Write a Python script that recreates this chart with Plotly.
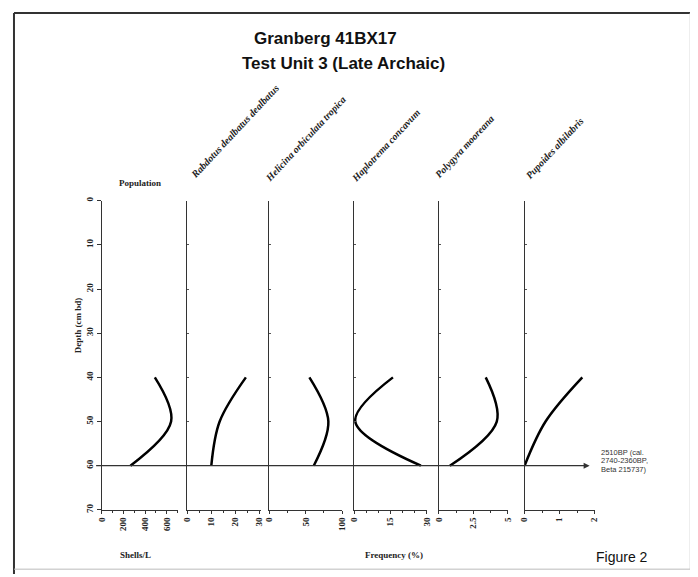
import plotly.graph_objects as go

W, H = 698, 577

# ---------------- data ----------------
depths = [40, 50, 60]
population = [490, 640, 265]          # Shells/L
rabdotus = [24.5, 13.5, 10]           # %
helicina = [55, 81, 61]               # %
haplotrema = [16, 0.5, 27.5]          # %
polygyra = [3.4, 4.2, 0.8]            # %
pupoides = [1.65, 0.6, 0]             # %

panel_names = ["Population", "Rabdotus dealbatus dealbatus", "Helicina orbiculata tropica",
               "Haplotrema concavum", "Polygyra mooreana", "Pupoides albilabris"]
panel_values = [population, rabdotus, helicina, haplotrema, polygyra, pupoides]
panel_ranges = [[0, 700], [0, 31], [0, 100], [0, 30], [0, 5], [0, 2]]
panel_ticks = [[0, 200, 400, 600], [0, 10, 20, 30], [0, 50, 100], [0, 15, 30], [0, 2.5, 5], [0, 1, 2]]
panel_minor = [100, 5, 25, 5, 1.25, 0.5]
depth_ticks = [0, 10, 20, 30, 40, 50, 60, 70]
dated_depth = 60
date_lines = ["2510BP (cal.", "2740-2360BP,", "Beta 215737)"]

# ---------------- layout helpers ----------------
# page body has an 8px margin, so shift page coordinates into figure coordinates
OFF = 8

def px(x):
    return (x - OFF) / W

def py(y):
    return 1 - (y - OFF) / H

panel_px = [(98, 175), (185, 260), (268, 342), (354, 428), (440, 510), (527, 598)]
y_dom = [py(512), py(199)]

fig = go.Figure()
layout = dict(
    width=W, height=H, margin=dict(l=0, r=0, t=0, b=0),
    paper_bgcolor="white", plot_bgcolor="rgba(0,0,0,0)", showlegend=False,
)

tickfont = dict(family="Liberation Serif", size=9, color="#222", weight="bold")

for i, (vals, rng, tv, mn, (x0, x1)) in enumerate(zip(panel_values, panel_ranges, panel_ticks, panel_minor, panel_px)):
    n = "" if i == 0 else str(i + 1)
    fig.add_trace(go.Scatter(
        x=vals, y=depths, mode="lines", xaxis="x" + n, yaxis="y" + n,
        line=dict(color="black", width=2.5, shape="spline", smoothing=1.0),
        hoverinfo="skip",
    ))
    layout["xaxis" + n] = dict(
        domain=[px(x0), px(x1)], range=rng, anchor="y" + n,
        showgrid=False, zeroline=False, showline=True, linecolor="#333", linewidth=1,
        ticks="outside", ticklen=3, tickcolor="#333", tickvals=tv,
        ticktext=[str(t) for t in tv], tickangle=-90, tickfont=tickfont,
        minor=dict(dtick=mn, ticks="outside", ticklen=2, tickcolor="#333"),
    )
    ydict = dict(
        domain=y_dom, range=[70, 0], anchor="x" + n,
        showgrid=False, zeroline=False, showline=True, linecolor="#333", linewidth=1,
        tickvals=depth_ticks,
    )
    if i == 0:
        ydict.update(ticks="outside", ticklen=4, tickcolor="#333",
                     ticktext=[str(t) for t in depth_ticks], tickangle=-90, tickfont=tickfont)
    else:
        ydict.update(ticks="inside", ticklen=2, tickcolor="#555", showticklabels=False)
    layout["yaxis" + n] = ydict

fig.update_layout(**layout)

# horizontal dated line with arrow
fig.add_annotation(
    x=px(593), xref="paper", y=dated_depth, yref="y",
    ax=-(593 - 98), axref="pixel", ay=0, ayref="pixel",
    text="", showarrow=True, arrowhead=2, arrowsize=1, arrowwidth=1.2, arrowcolor="#333",
)
for k, line in enumerate(date_lines):
    fig.add_annotation(
        x=px(603), xref="paper", y=py(454 + 8.5 * k), yref="paper", text=line,
        showarrow=False, xanchor="left", yanchor="middle", align="left",
        font=dict(family="Liberation Sans", size=7.5, color="#333"),
    )

def label(x, y, text, size, family="Liberation Serif", angle=0, color="#222"):
    fig.add_annotation(x=px(x), y=py(y), xref="paper", yref="paper", text=text,
                       textangle=angle, showarrow=False, xanchor="center", yanchor="middle",
                       font=dict(family=family, size=size, color=color))

# titles
label(325, 35, "<b>Granberg 41BX17</b>", 17, "Liberation Sans", color="#111")
label(343, 60, "<b>Test Unit 3 (Late Archaic)</b>", 17, "Liberation Sans", color="#111")

# column headings
label(137, 181, "<b>" + panel_names[0] + "</b>", 9)
head_centers = [(233, 129), (305, 136), (386, 143), (466, 144), (557, 146)]
for name, (cx, cy) in zip(panel_names[1:], head_centers):
    label(cx, cy, "<b><i>" + name + "</i></b>", 10, angle=-47)

# axis titles
label(74, 325, "<b>Depth (cm bd)</b>", 9, angle=-90)
label(132, 558, "<b>Shells/L</b>", 9)
label(395, 558, "<b>Frequency (%)</b>", 9)
label(626, 560, "Figure 2", 14, "Liberation Sans", color="#111")

# frame
fig.add_shape(type="line", xref="paper", yref="paper", x0=px(9), x1=px(698), y0=py(9), y1=py(9),
              line=dict(color="#333", width=2))
fig.add_shape(type="line", xref="paper", yref="paper", x0=px(9), x1=px(9), y0=py(9), y1=py(577),
              line=dict(color="#333", width=2))
fig.add_shape(type="line", xref="paper", yref="paper", x0=px(695), x1=px(695), y0=py(9), y1=py(572),
              line=dict(color="#ccc", width=1))
fig.add_shape(type="line", xref="paper", yref="paper", x0=px(9), x1=px(698), y0=py(572), y1=py(572),
              line=dict(color="#bbb", width=1))

fig.write_html("out.html")
